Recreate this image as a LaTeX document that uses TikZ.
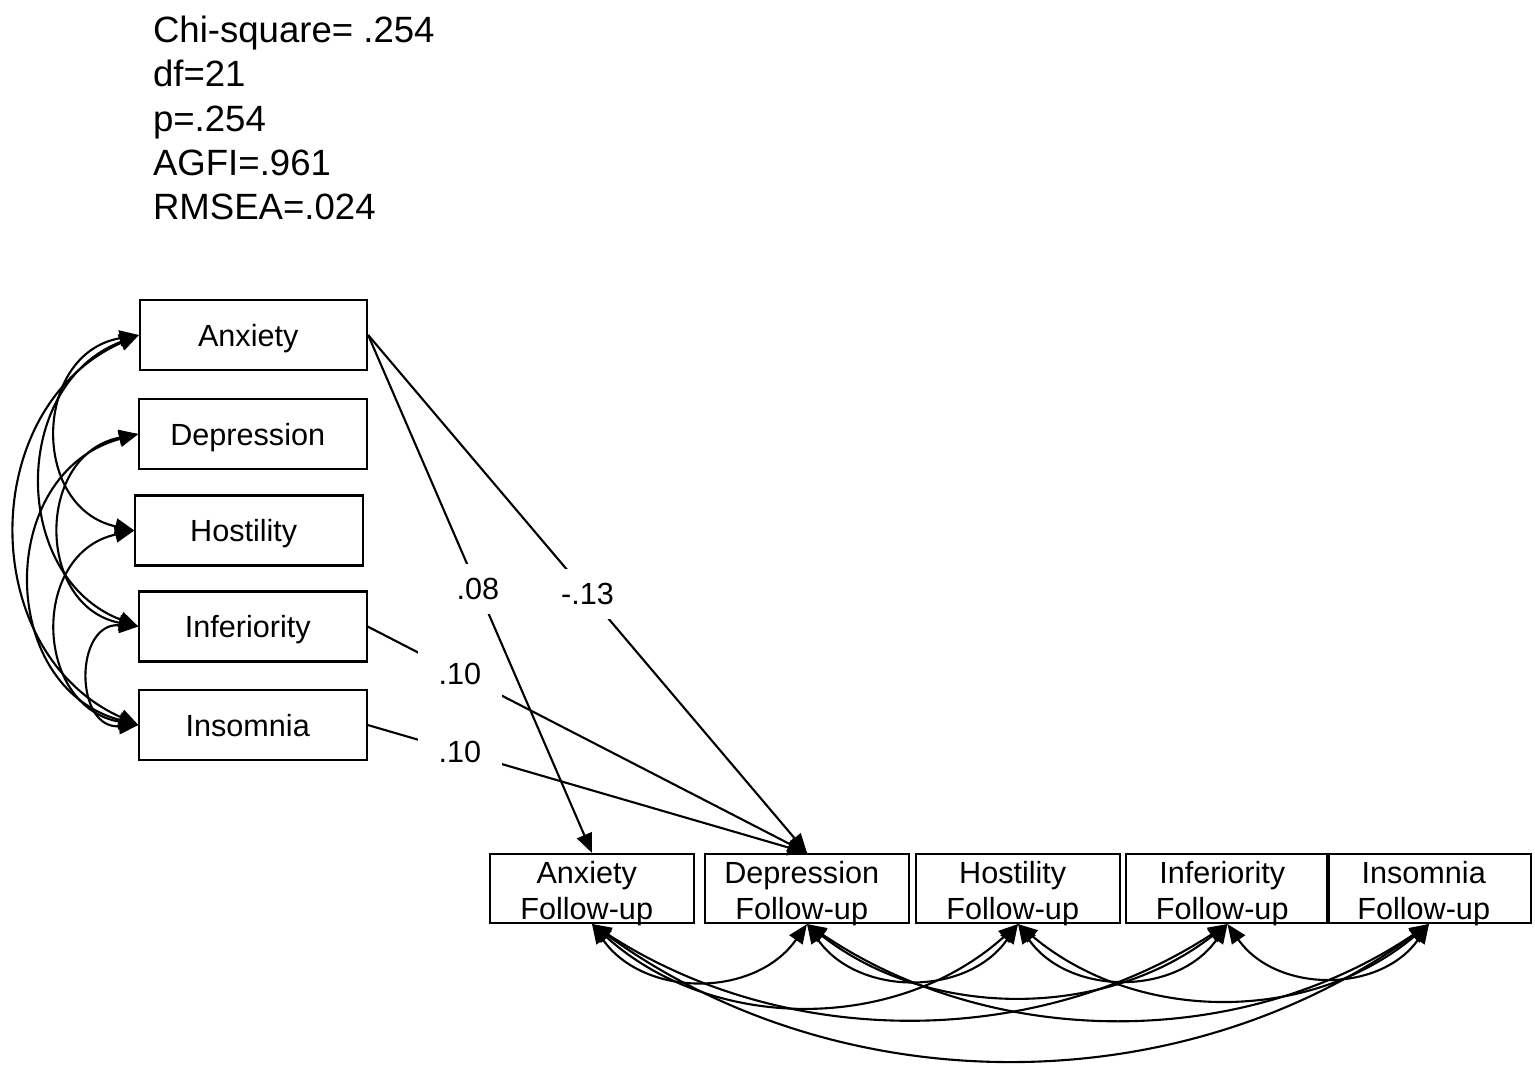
\documentclass[tikz,border=0pt]{standalone}
\usepackage{fontspec}
\setmainfont{Liberation Sans}
\usetikzlibrary{arrows.meta}
\newcommand{\followup}[1]{\rule{0pt}{7.3pt}#1\hspace*{3pt}\\ \smash{Follow-up}\hspace*{3pt}}

\begin{document}
\begin{tikzpicture}[x=0.01cm, y=-0.01cm, >={Triangle[length=5.5pt,width=4.5pt]}, line width=0.6pt]
  \tikzset{
    every node/.style={font=\fontsize{8.7}{10.2}\selectfont},
    var/.style={draw, minimum width=2.27cm, minimum height=0.70cm, inner sep=0pt,
      text height=6.3pt, text depth=0pt, execute at end node={\hspace*{3pt}}},
    varf/.style={draw, minimum width=2.03cm, minimum height=0.69cm, inner sep=0pt, align=center},
    coef/.style={fill=white, inner xsep=6pt, inner ysep=4pt},
    cov/.style={<->, bend right=#1}
  }
  \useasboundingbox (0,0) rectangle (1535,1067);

  % fit statistics
  \node[anchor=north west, inner sep=0pt, align=left, font=\fontsize{10.4}{12.6}\selectfont] (fit) at (152,15)
    {Chi-square= .254\\ df=21\\ p=.254\\ AGFI=.961\\ RMSEA=.024};

  % baseline measures
  \node[var] (anx) at (253.5,335)   {Anxiety};
  \node[var] (dep) at (253,434)     {Depression};
  \node[var] (hos) at (249,530.5)   {Hostility};
  \node[var] (inf) at (253,626.5)   {Inferiority};
  \node[var] (ins) at (253,725)     {Insomnia};

  % follow-up measures
  \node[varf] (anxf) at (592,888.5)    {\followup{Anxiety}};
  \node[varf] (depf) at (807,888.5)    {\followup{Depression}};
  \node[varf] (hosf) at (1018,888.5)   {\followup{Hostility}};
  \node[varf] (inff) at (1227.5,888.5) {\followup{Inferiority}};
  \node[varf] (insf) at (1429,888.5)   {\followup{Insomnia}};

  % paths
  \draw[->] (anx.east) -- node[coef, pos=0.49] {.08} (anxf.north);
  \draw[->] (anx.east) -- node[coef, pos=0.5]  {-.13} (depf.north);
  \draw[->] (inf.east) -- node[coef, pos=0.21] {.10} (depf.north);
  \draw[->] (ins.east) -- node[coef, pos=0.21] {.10} (depf.north);

  % covariances among baseline measures
  \draw[cov=79, looseness=1.40] (anx.west) to (hos.west);
  \draw[cov=69, looseness=1.21] (anx.west) to (inf.west);
  \draw[cov=66, looseness=1.17] (anx.west) to (ins.west);
  \draw[cov=79, looseness=1.40] (dep.west) to (inf.west);
  \draw[cov=75, looseness=1.30] (dep.west) to (ins.west);
  \draw[cov=79, looseness=1.40] (hos.west) to (ins.west);
  \draw[cov=94, looseness=1.68] (inf.west) to (ins.west);

  % covariances among follow-up measures
  \draw[cov=55, looseness=1.08] (anxf.south) to (depf.south);
  \draw[cov=55, looseness=1.08] (depf.south) to (hosf.south);
  \draw[cov=55, looseness=1.08] (hosf.south) to (inff.south);
  \draw[cov=55, looseness=1.08] (inff.south) to (insf.south);
  \draw[cov=42, looseness=0.98] (anxf.south) to (hosf.south);
  \draw[cov=38, looseness=0.95] (depf.south) to (inff.south);
  \draw[cov=40, looseness=0.97] (hosf.south) to (insf.south);
  \draw[cov=33, looseness=0.93] (anxf.south) to (inff.south);
  \draw[cov=34, looseness=0.93] (depf.south) to (insf.south);
  \draw[cov=36, looseness=0.94] (anxf.south) to (insf.south);
\end{tikzpicture}
\end{document}
